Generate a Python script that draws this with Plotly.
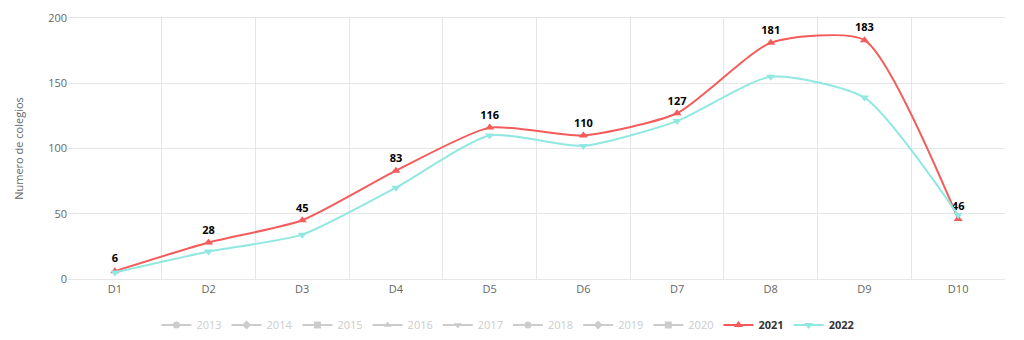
import plotly.graph_objects as go

categories = ["D1", "D2", "D3", "D4", "D5", "D6", "D7", "D8", "D9", "D10"]
values_2021 = [6, 28, 45, 83, 116, 110, 127, 181, 183, 46]
values_2022 = [5, 21, 34, 70, 110, 102, 121, 155, 139, 49]
hidden_years = ["2013", "2014", "2015", "2016", "2017", "2018", "2019", "2020"]
hidden_symbols = ["circle", "diamond", "square", "triangle-up", "triangle-down",
                  "circle", "diamond", "square"]
y_ticks = [0, 50, 100, 150, 200]
y_title = "Numero de colegios"

fig = go.Figure()

for yr, sym in zip(hidden_years, hidden_symbols):
    fig.add_trace(go.Scatter(
        x=[None], y=[None], mode="lines+markers",
        name=f"<span style='color:#cccccc'>{yr}</span>",
        line=dict(color="#cccccc", width=2),
        marker=dict(symbol=sym, size=7, color="#cccccc"),
        hoverinfo="skip",
    ))

fig.add_trace(go.Scatter(
    x=categories, y=values_2021, mode="lines+markers+text",
    name="<b>2021</b>",
    line=dict(color="#f45b5b", width=2, shape="spline", smoothing=0.6),
    marker=dict(symbol="triangle-up", size=8, color="#f45b5b"),
    text=[str(v) for v in values_2021], textposition="top center",
    textfont=dict(family="Open Sans, Arial", size=11, color="#000000"),
    texttemplate="<b>%{text}</b>",
))
fig.add_trace(go.Scatter(
    x=categories, y=values_2022, mode="lines+markers",
    name="<b>2022</b>",
    line=dict(color="#91e8e1", width=2, shape="spline", smoothing=0.6),
    marker=dict(symbol="triangle-down", size=8, color="#91e8e1"),
))

fig.update_layout(
    width=1024, height=340,
    margin=dict(l=68, r=19, t=18, b=61, autoexpand=False),
    paper_bgcolor="white", plot_bgcolor="white",
    font=dict(family="Open Sans, Arial", size=11, color="#666666"),
    showlegend=True,
    legend=dict(orientation="h", xref="container", x=0.496, xanchor="center",
                yref="container", y=15 / 340, yanchor="middle",
                font=dict(size=11, color="#333333"), itemwidth=30,
                tracegroupgap=0, traceorder="normal"),
)
fig.update_xaxes(
    type="category", range=[-0.5, 9.5], tickson="boundaries",
    showgrid=True, gridcolor="#e6e6e6", gridwidth=1,
    showline=True, linecolor="#e6e6e6", linewidth=1,
    ticks="", tickfont=dict(size=11, color="#666666"), zeroline=False,
    mirror=True,
)
fig.update_yaxes(
    range=[0, 200], tickvals=y_ticks, showgrid=True, gridcolor="#e6e6e6",
    zeroline=False, showline=False, ticks="",
    tickfont=dict(size=11, color="#666666"),
    title=dict(text=y_title, font=dict(size=11, color="#666666"), standoff=22),
)

fig.write_html("out.html")
